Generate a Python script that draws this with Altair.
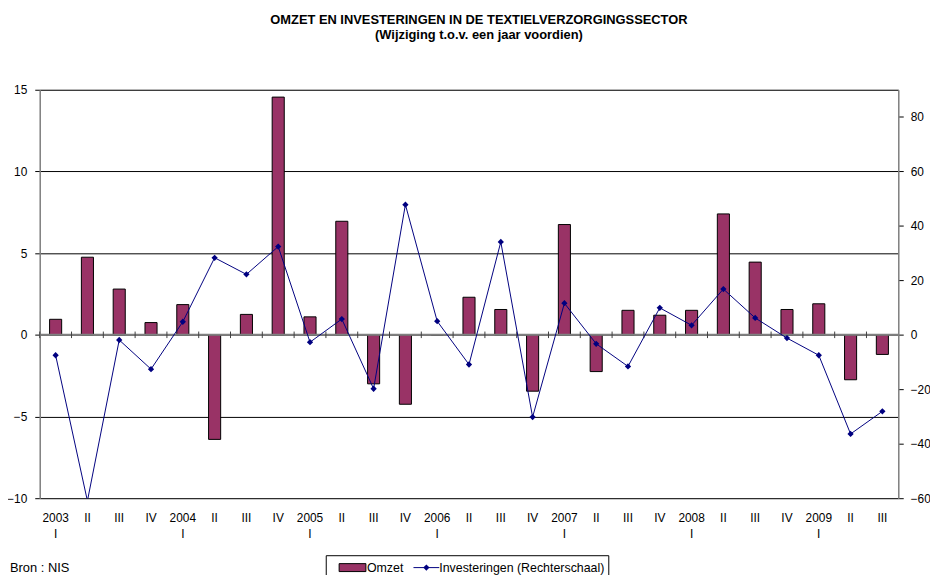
import altair as alt
import pandas as pd

years = ["2003", "2004", "2005", "2006", "2007", "2008", "2009"]
quarters = ["I", "II", "III", "IV"]
keys = [f"{y}-{q}" for y in years for q in quarters][:27]

omzet = [0.95, 4.75, 2.8, 0.75, 1.85, -6.4, 1.25, 14.55, 1.1, 6.95, -3.0, -4.25,
         0.0, 2.3, 1.55, -3.45, 6.75, -2.25, 1.5, 1.2, 1.5, 7.4, 4.45, 1.55,
         1.9, -2.75, -1.2]
investeringen = [-7.5, -61.0, -1.9, -12.6, 4.8, 28.3, 22.2, 32.4, -2.7, 5.8, -19.8, 47.8,
                 5.0, -10.9, 34.1, -30.2, 11.6, -3.3, -11.6, 9.9, 3.5, 16.8, 6.2, -1.2,
                 -7.5, -36.4, -28.1]

left_ticks = [-10, -5, 0, 5, 10, 15]
right_ticks = [-60, -40, -20, 0, 20, 40, 60, 80]

df = pd.DataFrame({"k": keys, "omzet": omzet, "inv": investeringen})

FONT = "Liberation Sans"
BAR = "#993366"
LINE = "#000080"
W, H = 866, 412

label_expr = ("split(datum.value, '-')[1] == 'I' ? split(datum.value, '-') "
              ": split(datum.value, '-')[1]")
x_axis = alt.Axis(title=None, labelExpr=label_expr, labelAngle=0, ticks=False,
                  domain=False, labelPadding=15, labelLineHeight=16,
                  labelFontSize=12, labelColor="black", labelOverlap=False,
                  labelFont=FONT)
x_scale = alt.Scale(paddingInner=0, paddingOuter=0)

def xenc(bp):
    return alt.X("k:N", sort=keys, scale=x_scale, axis=x_axis, bandPosition=bp)

y_left_scale = alt.Scale(domain=[-10, 15], nice=False, zero=False)

base = alt.Chart(df)

bars = base.mark_bar(color=BAR, stroke="black", strokeWidth=1,
                     width=alt.RelativeBandSize(0.38)).encode(
    x=alt.X("k:N", sort=keys, scale=x_scale, axis=x_axis),
    y=alt.Y("omzet:Q", scale=y_left_scale,
            axis=alt.Axis(title=None, values=left_ticks, grid=True,
                          gridColor="black", gridWidth=1, domainColor="#808080",
                          domainWidth=1.5, tickColor="black", tickSize=5,
                          labelPadding=8, labelFontSize=12, labelColor="black",
                          labelFont=FONT)),
)

zero = alt.Chart(pd.DataFrame({"z": [0]})).mark_rule(color="#808080", strokeWidth=2).encode(
    y=alt.Y("z:Q", scale=y_left_scale)
)

cat_ticks = base.mark_rule(color="#404040", strokeWidth=1).encode(
    x=xenc(0),
    y=alt.datum(0.2, scale=y_left_scale),
    y2=alt.datum(-0.2),
)

left_layer = alt.layer(bars, zero, cat_ticks)

line = base.mark_line(color=LINE, strokeWidth=1, clip=True,
                      point=alt.OverlayMarkDef(shape="diamond", size=40, filled=True,
                                               color=LINE)).encode(
    x=xenc(0.5),
    y=alt.Y("inv:Q", scale=alt.Scale(domain=[-60, 90], nice=False, zero=False),
            axis=alt.Axis(title=None, orient="right", values=right_ticks, grid=False,
                          domainColor="#808080", domainWidth=1.5, tickColor="black",
                          tickSize=5, labelPadding=7, labelFontSize=12,
                          labelColor="black", labelFont=FONT)),
)

# legend & source note (decoration, pixel positions relative to plot area)
LY = 482
one = alt.Data(values=[{"a": 1}])
leg_box = alt.Chart(one).mark_rect(fill="white", stroke="black", strokeWidth=1).encode(
    x=alt.value(289), x2=alt.value(574), y=alt.value(LY - 12), y2=alt.value(LY + 30))
leg_sw = alt.Chart(one).mark_rect(fill=BAR, stroke="black", strokeWidth=1).encode(
    x=alt.value(302), x2=alt.value(329), y=alt.value(LY - 4), y2=alt.value(LY + 4))
leg_t1 = alt.Chart(one).mark_text(text="Omzet", align="left", baseline="middle",
                                  fontSize=12.5, font=FONT, color="black").encode(
    x=alt.value(330), y=alt.value(LY))
leg_ln = alt.Chart(one).mark_rule(color=LINE, strokeWidth=1).encode(
    x=alt.value(377), x2=alt.value(403), y=alt.value(LY))
leg_pt = alt.Chart(one).mark_point(shape="diamond", size=40, filled=True, color=LINE,
                                   opacity=1).encode(
    x=alt.value(390), y=alt.value(LY))
leg_t2 = alt.Chart(one).mark_text(text="Investeringen (Rechterschaal)", align="left",
                                  baseline="middle", fontSize=12.5, font=FONT,
                                  color="black").encode(
    x=alt.value(403), y=alt.value(LY))
bron = alt.Chart(one).mark_text(text="Bron : NIS", align="left", baseline="middle",
                                fontSize=13, font=FONT, color="black").encode(
    x=alt.value(-30), y=alt.value(LY))

chart = alt.layer(
    left_layer, line, leg_box, leg_sw, leg_t1, leg_ln, leg_pt, leg_t2, bron
).resolve_scale(y="independent").properties(
    width=W, height=H,
    autosize=alt.AutoSizeParams(type="none"),
    padding={"left": 32, "top": 80, "right": 32, "bottom": 75},
    title=alt.TitleParams(
        text="OMZET EN INVESTERINGEN IN DE TEXTIELVERZORGINGSSECTOR",
        subtitle="(Wijziging t.o.v. een jaar voordien)",
        font=FONT, subtitleFont=FONT, fontSize=13, subtitleFontSize=13,
        fontWeight="bold", subtitleFontWeight="bold", color="black",
        subtitleColor="black", anchor="middle", offset=42, dx=10, subtitlePadding=2),
).configure_view(stroke="#808080", strokeWidth=1).configure(background="white")

chart.save("out.html", embed_options={"renderer": "svg", "actions": False})
